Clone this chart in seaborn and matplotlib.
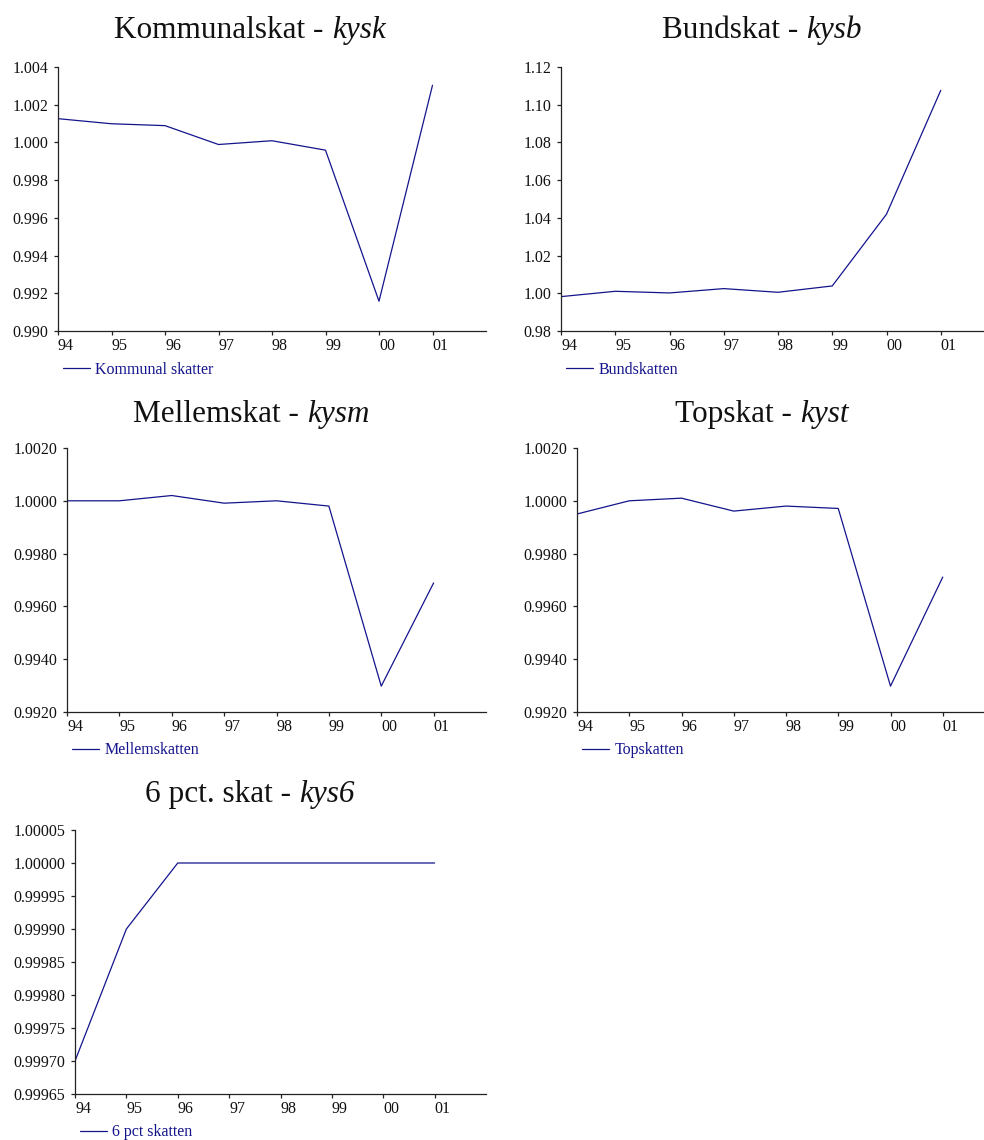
import numpy as np
import pandas as pd
import seaborn as sns
import matplotlib
matplotlib.use("Agg")
import matplotlib.pyplot as plt
import matplotlib.ticker as mticker

# Years on the x axis (two-digit labels)
years = ["94", "95", "96", "97", "98", "99", "00", "01"]

# Tax index series
kysk = [1.00126, 1.00099, 1.00089, 0.99989, 1.00009, 0.99959, 0.99158, 1.00303]
kysb = [0.99823, 1.00106, 1.00018, 1.00248, 1.00053, 1.00389, 1.04195, 1.10760]
kysm = [1.00000, 1.00000, 1.00020, 0.99991, 1.00000, 0.99980, 0.99298, 0.99689]
kyst = [0.99950, 1.00000, 1.00010, 0.99961, 0.99980, 0.99971, 0.99298, 0.99711]
kys6 = [0.99970, 0.99990, 1.00000, 1.00000, 1.00000, 1.00000, 1.00000, 1.00000]

titles = ["Kommunalskat", "Bundskat", "Mellemskat", "Topskat", "6 pct. skat"]
names = ["kysk", "kysb", "kysm", "kyst", "kys6"]
labels = ["Kommunal skatter", "Bundskatten", "Mellemskatten", "Topskatten", "6 pct skatten"]
series = [kysk, kysb, kysm, kyst, kys6]
yticks = [
    [0.990, 0.992, 0.994, 0.996, 0.998, 1.000, 1.002, 1.004],
    [0.98, 1.00, 1.02, 1.04, 1.06, 1.08, 1.10, 1.12],
    [0.9920, 0.9940, 0.9960, 0.9980, 1.0000, 1.0020],
    [0.9920, 0.9940, 0.9960, 0.9980, 1.0000, 1.0020],
    [0.99965, 0.99970, 0.99975, 0.99980, 0.99985, 0.99990, 0.99995, 1.00000, 1.00005],
]
ydecimals = [3, 2, 4, 4, 5]

sns.set_theme(style="ticks")
plt.rcParams["font.family"] = ["Liberation Serif", "DejaVu Serif"]

W, H = 984, 1140
fig = plt.figure(figsize=(W / 100, H / 100), dpi=100)
fig.patch.set_facecolor("white")

# panel boxes in pixels: left, right, top, bottom
boxes = [
    (58, 486, 67, 331),
    (561, 995, 67, 331),
    (67, 486, 448, 712),
    (577, 995, 448, 712),
    (75, 486, 830, 1094),
]
title_pos = [(250, 38), (762, 38), (251, 422), (762, 422), (250, 802)]

line_color = "#14148c"
renderer = fig.canvas.get_renderer()


def mixed_title(cx, cy, upright, italic):
    """Centered title: upright text followed by an italic variable name."""
    kw = dict(va="baseline", fontsize=22.5, color="#111111")
    t1 = fig.text(0, 0, upright + " - ", ha="left", **kw)
    t2 = fig.text(0, 0, italic, ha="left", style="italic", **kw)
    w1 = t1.get_window_extent(renderer).width
    w2 = t2.get_window_extent(renderer).width
    x0 = cx - (w1 + w2) / 2
    t1.set_position((x0 / W, 1 - cy / H))
    t2.set_position(((x0 + w1) / W, 1 - cy / H))


for i in range(5):
    l, r, t, b = boxes[i]
    ax = fig.add_axes([l / W, 1 - b / H, (r - l) / W, (b - t) / H])
    ax.set_facecolor("white")
    df = pd.DataFrame({"x": np.arange(len(years)), "y": series[i]})
    sns.lineplot(data=df, x="x", y="y", ax=ax, color=line_color, linewidth=0.9,
                 label=labels[i])
    ax.set_xlim(0, 8)
    ax.set_ylim(yticks[i][0], yticks[i][-1])
    ax.set_xticks(np.arange(len(years)))
    ax.set_xticklabels(years, ha="left")
    ax.set_yticks(yticks[i])
    ax.yaxis.set_major_formatter(mticker.FormatStrFormatter(f"%.{ydecimals[i]}f"))
    ax.set_xlabel("")
    ax.set_ylabel("")
    for s in ["top", "right"]:
        ax.spines[s].set_visible(False)
    for s in ["left", "bottom"]:
        ax.spines[s].set_color("#222222")
        ax.spines[s].set_linewidth(0.9)
    ax.tick_params(axis="both", direction="out", length=3, width=0.9,
                   color="#222222", labelsize=11.5, labelcolor="#111111")
    ax.tick_params(axis="x", pad=2)
    ax.tick_params(axis="y", pad=4)
    ax.grid(False)
    leg = ax.legend(loc="center left",
                    bbox_to_anchor=(4.5 / (r - l), -38.5 / (b - t)),
                    frameon=False, fontsize=11.5, handlelength=1.75,
                    handletextpad=0.3, borderpad=0, borderaxespad=0)
    for txt in leg.get_texts():
        txt.set_color(line_color)
    tx, ty = title_pos[i]
    mixed_title(tx, ty, titles[i], names[i])

fig.savefig("out.png", dpi=100, facecolor="white")
